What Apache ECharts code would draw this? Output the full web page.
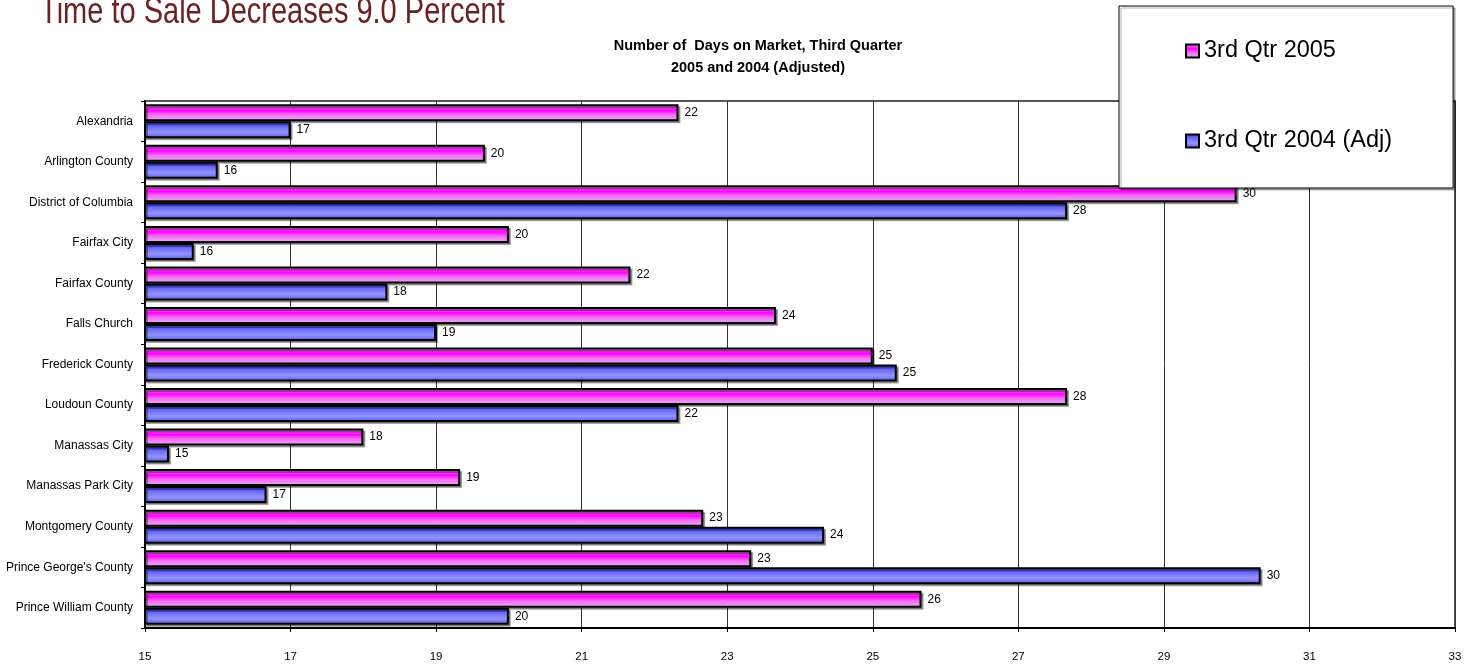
<!DOCTYPE html>
<html>
<head>
<meta charset="utf-8">
<script src="https://cdn.jsdelivr.net/npm/echarts@6/dist/echarts.min.js"></script>
<style>
html,body{margin:0;padding:0;background:#fff;}
#main{width:1473px;height:664px;}
</style>
</head>
<body>
<div id="main"></div>
<script>
const categories = ["Alexandria","Arlington County","District of Columbia","Fairfax City","Fairfax County","Falls Church","Frederick County","Loudoun County","Manassas City","Manassas Park City","Montgomery County","Prince George's County","Prince William County"];
const seriesNames = ["3rd Qtr 2005","3rd Qtr 2004 (Adj)"];
const q2005 = [22.33,19.67,30.0,20.0,21.67,23.67,25.0,27.67,18.0,19.33,22.67,23.33,25.67];
const q2004 = [17.0,16.0,27.67,15.67,18.33,19.0,25.33,22.33,15.33,16.67,24.33,30.33,20.0];
const xTicks = {min:15,max:33,interval:2};
const titleText = "Time to Sale Decreases 9.0 Percent";
const subtitleLines = ["Number of  Days on Market, Third Quarter","2005 and 2004 (Adjusted)"];

const sans = "'Liberation Sans', Arial, sans-serif";
const chart = echarts.init(document.getElementById('main'));

const pinkGrad = new echarts.graphic.LinearGradient(0,0,0,1,[
  {offset:0,color:'#f09cf0'},{offset:0.35,color:'#ff00ff'},{offset:0.6,color:'#f46cf4'},{offset:1,color:'#e8b0f8'}]);
const blueGrad = new echarts.graphic.LinearGradient(0,0,0,1,[
  {offset:0,color:'#3232e6'},{offset:0.3,color:'#6a6af8'},{offset:0.65,color:'#9494ff'},{offset:1,color:'#5656ea'}]);

function barSeries(name, data, grad){
  return {
    name:name, type:'bar', data:data, barWidth:17, barGap:'0%',
    itemStyle:{color:grad, borderColor:'#000', borderWidth:2,
      shadowColor:'rgba(0,0,0,0.35)', shadowOffsetX:2, shadowOffsetY:2, shadowBlur:0},
    label:{show:true, position:'right', distance:6, color:'#000', fontSize:12,
      fontFamily:sans, formatter:p=>Math.round(p.value)},
    emphasis:{disabled:true}, animation:false
  };
}

chart.setOption({
  animation:false,
  graphic:[{
    type:'text', x:40, y:31, scaleY:1.3, silent:true,
    style:{text:titleText, fill:'#6b2222', font:"normal 29px 'Liberation Sans', Arial, sans-serif", textVerticalAlign:'bottom', verticalAlign:'bottom'}
  }],
  title:[
    {text:subtitleLines[0], left:753, top:33, textAlign:'center', textStyle:{color:'#000', fontSize:14.5, fontWeight:'bold', fontFamily:sans}},
    {text:subtitleLines[1], left:753, top:55, textAlign:'center', textStyle:{color:'#000', fontSize:14.5, fontWeight:'bold', fontFamily:sans}}
  ],
  legend:{
    orient:'vertical', left:1119, top:6,
    padding:[33,61,35,66], itemGap:66, itemWidth:13, itemHeight:13,
    backgroundColor:'#fff', borderColor:'#000', borderWidth:1,
    shadowColor:'rgba(0,0,0,0.3)', shadowOffsetX:2, shadowOffsetY:2, shadowBlur:0,
    textStyle:{fontSize:23.5, color:'#000', fontFamily:sans},
    data:seriesNames.map(n=>({name:n, icon:'rect'}))
  },
  grid:{left:145, right:18, top:101, bottom:36, show:true, borderColor:'#222', borderWidth:1.5, z:0},
  xAxis:{
    type:'value', min:xTicks.min, max:xTicks.max, interval:xTicks.interval,
    axisLine:{show:true, lineStyle:{color:'#000', width:2}},
    axisTick:{show:true, length:4, lineStyle:{color:'#000'}},
    axisLabel:{color:'#000', fontSize:11.5, margin:23, fontFamily:sans},
    splitLine:{show:true, lineStyle:{color:'#333', width:1}}
  },
  yAxis:{
    type:'category', data:categories, inverse:true,
    axisLine:{show:true, lineStyle:{color:'#000', width:2}},
    axisTick:{show:true, length:4, lineStyle:{color:'#000'}},
    axisLabel:{color:'#000', fontSize:12, margin:12, fontFamily:sans}
  },
  series:[barSeries(seriesNames[0], q2005, pinkGrad), barSeries(seriesNames[1], q2004, blueGrad)]
});
</script>
</body>
</html>
